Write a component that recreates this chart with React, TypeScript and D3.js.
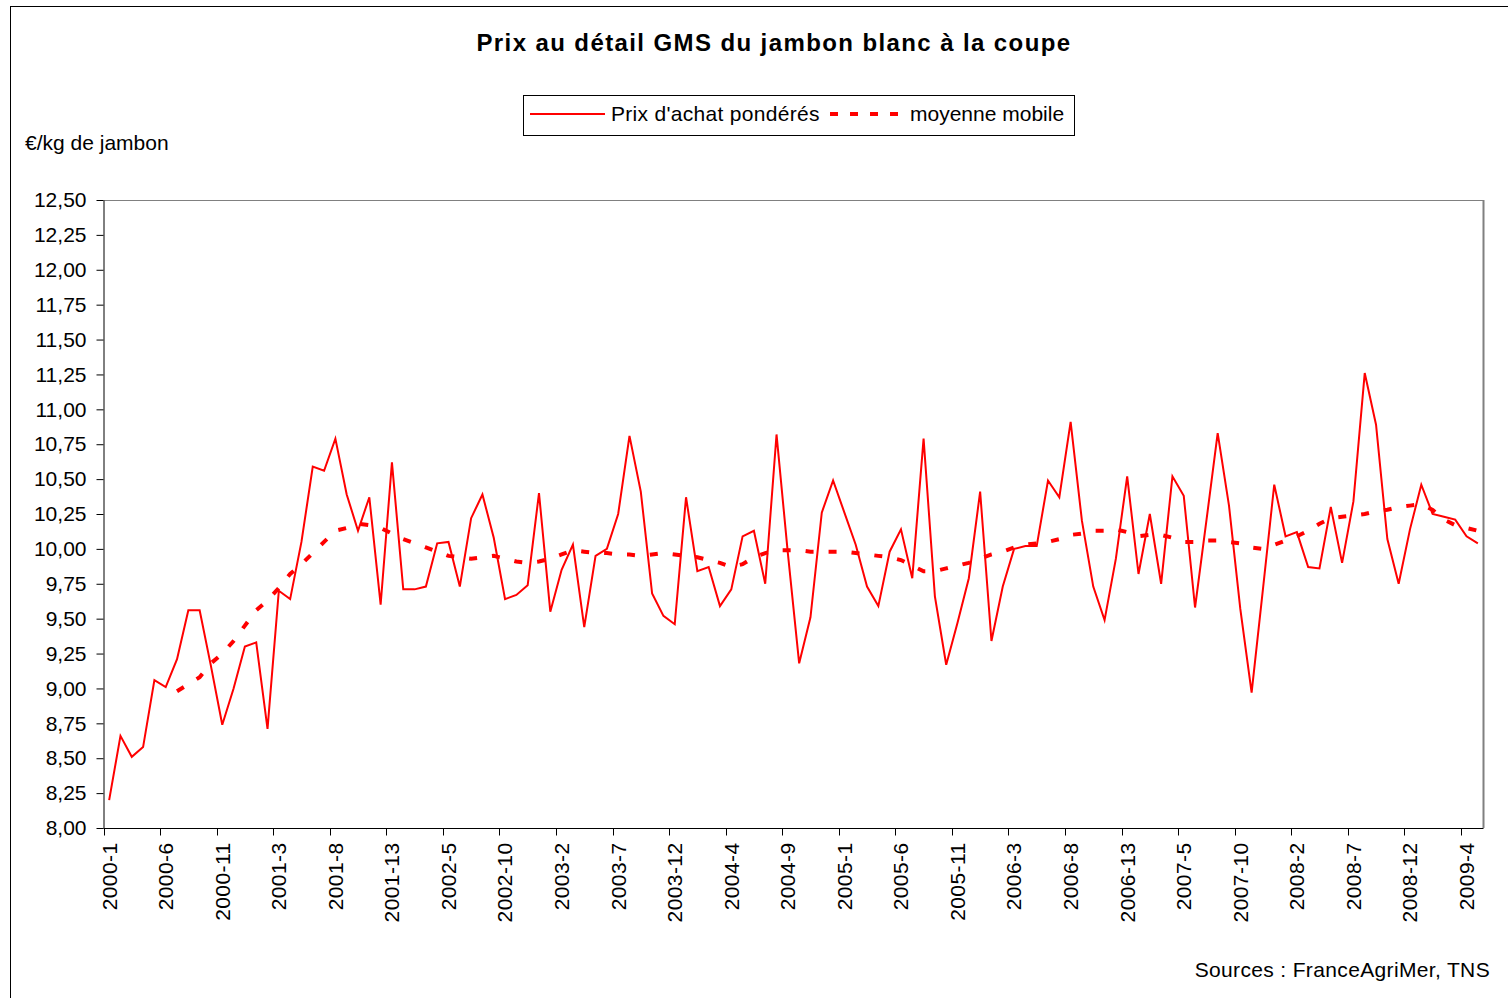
import React, { useEffect, useRef } from 'react';
import * as d3 from 'd3';

// 4-week periods, 13 per year, from 2000-1 up to 2009-5
const periods: string[] = [];
for (let yr = 2000; yr <= 2009; yr++) {
  for (let p = 1; p <= 13; p++) periods.push(`${yr}-${p}`);
}
const categories = periods.slice(0, 122);

const tickLabels = [
  '2000-1', '2000-6', '2000-11', '2001-3', '2001-8', '2001-13', '2002-5', '2002-10',
  '2003-2', '2003-7', '2003-12', '2004-4', '2004-9', '2005-1', '2005-6', '2005-11',
  '2006-3', '2006-8', '2006-13', '2007-5', '2007-10', '2008-2', '2008-7', '2008-12', '2009-4',
];

const yTicks = [8, 8.25, 8.5, 8.75, 9, 9.25, 9.5, 9.75, 10, 10.25, 10.5, 10.75, 11, 11.25, 11.5, 11.75, 12, 12.25, 12.5];

// Prix d'achat pondérés (€/kg)
const prixAchat = [
  8.20, 8.66, 8.51, 8.58, 9.06, 9.01, 9.21, 9.56, 9.56, 9.16, 8.74, 9.00, 9.30, 9.33, 8.71, 9.70,
  9.64, 10.05, 10.59, 10.56, 10.79, 10.39, 10.13, 10.37, 9.60, 10.62, 9.71, 9.71, 9.73, 10.04, 10.05, 9.73,
  10.22, 10.39, 10.08, 9.64, 9.67, 9.74, 10.40, 9.55, 9.85, 10.03, 9.44, 9.95, 10.00, 10.25, 10.81, 10.41,
  9.68, 9.52, 9.46, 10.37, 9.84, 9.87, 9.59, 9.71, 10.09, 10.13, 9.75, 10.82, 9.97, 9.18, 9.51, 10.26,
  10.49, 10.26, 10.03, 9.73, 9.59, 9.98, 10.14, 9.79, 10.79, 9.66, 9.17, 9.47, 9.79, 10.41, 9.34, 9.73,
  10.00, 10.02, 10.02, 10.49, 10.37, 10.91, 10.20, 9.73, 9.49, 9.93, 10.52, 9.82, 10.25, 9.75, 10.52, 10.38,
  9.58, 10.20, 10.83, 10.31, 9.57, 8.97, 9.71, 10.46, 10.09, 10.12, 9.87, 9.86, 10.30, 9.90, 10.34, 11.26,
  10.89, 10.07, 9.75, 10.14, 10.46, 10.25, 10.23, 10.21, 10.09, 10.04,
];

// moyenne mobile, starts at 2000-7
const moyenneStart = 6;
const moyenneMobile = [
  8.98, 9.03, 9.08, 9.18, 9.25, 9.34, 9.45, 9.56, 9.63, 9.72, 9.82, 9.89, 9.97, 10.05, 10.13, 10.15,
  10.18, 10.17, 10.15, 10.11, 10.07, 10.04, 10.01, 9.98, 9.95, 9.94, 9.93, 9.94, 9.95, 9.93, 9.91, 9.90,
  9.91, 9.93, 9.96, 9.99, 9.98, 9.97, 9.97, 9.96, 9.96, 9.95, 9.96, 9.97, 9.96, 9.95, 9.94, 9.92,
  9.90, 9.87, 9.89, 9.94, 9.97, 9.99, 9.99, 9.99, 9.98, 9.98, 9.98, 9.98, 9.97, 9.96, 9.95, 9.94,
  9.92, 9.88, 9.84, 9.84, 9.86, 9.88, 9.90, 9.93, 9.96, 9.98, 10.01, 10.03, 10.04, 10.05, 10.07, 10.10,
  10.11, 10.13, 10.13, 10.14, 10.12, 10.09, 10.10, 10.10, 10.08, 10.05, 10.05, 10.06, 10.06, 10.05, 10.04, 10.01,
  10.00, 10.03, 10.06, 10.09, 10.13, 10.18, 10.22, 10.23, 10.24, 10.25, 10.27, 10.28, 10.30, 10.31, 10.32, 10.28,
  10.21, 10.17, 10.15, 10.13,
];

const FONT = '"Liberation Sans", Arial, Helvetica, sans-serif';
const RED = '#ff0000';

const App = () => {
  const ref = useRef<SVGSVGElement>(null);

  useEffect(() => {
    if (!ref.current) return;
    const svg = d3.select(ref.current);
    svg.selectAll('*').remove();

    const left = 103.5, right = 1483.5, top = 200, bottom = 828;

    const x = d3.scaleBand<string>().domain(categories).range([left, right]).padding(0);
    const xc = (c: string) => (x(c) as number) + x.bandwidth() / 2;
    const y = d3.scaleLinear().domain([8, 12.5]).range([bottom, top]);

    // outer chart frame
    svg.append('rect')
      .attr('x', 10.5).attr('y', 6.5)
      .attr('width', 1520).attr('height', 1010)
      .attr('fill', 'white').attr('stroke', '#000').attr('stroke-width', 1);

    // title
    svg.append('text')
      .attr('x', 774).attr('y', 51)
      .attr('text-anchor', 'middle')
      .style('font-family', FONT).style('font-size', '24px').style('font-weight', 'bold')
      .style('letter-spacing', '1.4px')
      .text('Prix au détail GMS du jambon blanc à la coupe');

    // unit label
    svg.append('text')
      .attr('x', 25).attr('y', 150)
      .style('font-family', FONT).style('font-size', '21px')
      .text('€/kg de jambon');

    // sources
    svg.append('text')
      .attr('x', 1490).attr('y', 977)
      .attr('text-anchor', 'end')
      .style('font-family', FONT).style('font-size', '21px')
      .style('letter-spacing', '0.35px')
      .text('Sources : FranceAgriMer, TNS');

    // plot frame (top / right in grey)
    svg.append('line')
      .attr('x1', left).attr('x2', right).attr('y1', top + 0.5).attr('y2', top + 0.5)
      .attr('stroke', '#808080');
    svg.append('line')
      .attr('x1', right).attr('x2', right).attr('y1', top).attr('y2', bottom)
      .attr('stroke', '#808080').attr('stroke-width', 2);

    // y axis
    const yAxis = svg.append('g')
      .attr('transform', `translate(${left},0)`)
      .call(d3.axisLeft(y)
        .tickValues(yTicks)
        .tickSize(7)
        .tickSizeOuter(0)
        .tickPadding(10)
        .tickFormat(d => d3.format('.2f')(d as number).replace('.', ',')));
    yAxis.selectAll('text')
      .style('font-family', FONT).style('font-size', '21px').attr('fill', '#000');
    yAxis.selectAll('line, path').attr('stroke', '#000');

    // x axis
    const xAxis = svg.append('g').attr('transform', `translate(0,${bottom + 0.5})`);
    xAxis.append('line').attr('x1', left).attr('x2', right).attr('stroke', '#000');
    xAxis.selectAll('.tick')
      .data(tickLabels)
      .enter().append('line')
      .attr('class', 'tick')
      .attr('x1', d => Math.round(x(d) as number) + 0.5)
      .attr('x2', d => Math.round(x(d) as number) + 0.5)
      .attr('y1', 0).attr('y2', 7)
      .attr('stroke', '#000');
    xAxis.selectAll('.lbl')
      .data(tickLabels)
      .enter().append('text')
      .attr('class', 'lbl')
      .attr('transform', d => `translate(${xc(d)},14) rotate(-90)`)
      .attr('text-anchor', 'end')
      .attr('dy', '0.35em')
      .style('font-family', FONT).style('font-size', '21px')
      .style('letter-spacing', '0.4px')
      .text(d => d);

    // series
    const line = d3.line<[string, number]>()
      .x(d => xc(d[0]))
      .y(d => y(d[1]));

    const moyennePts: [string, number][] = moyenneMobile.map((v, i) => [categories[i + moyenneStart], v]);
    svg.append('path')
      .datum(moyennePts)
      .attr('d', line)
      .attr('fill', 'none')
      .attr('stroke', RED)
      .attr('stroke-width', 4)
      .attr('stroke-dasharray', '8,15');

    const prixPts: [string, number][] = prixAchat.map((v, i) => [categories[i], v]);
    svg.append('path')
      .datum(prixPts)
      .attr('d', line)
      .attr('fill', 'none')
      .attr('stroke', RED)
      .attr('stroke-width', 2)
      .attr('stroke-linejoin', 'miter');

    // legend
    const lg = svg.append('g');
    lg.append('rect')
      .attr('x', 523.5).attr('y', 95.5).attr('width', 551).attr('height', 40)
      .attr('fill', 'white').attr('stroke', '#000');
    lg.append('line')
      .attr('x1', 530).attr('x2', 605).attr('y1', 114).attr('y2', 114)
      .attr('stroke', RED).attr('stroke-width', 2);
    lg.append('text')
      .attr('x', 611).attr('y', 121)
      .style('font-family', FONT).style('font-size', '21px')
      .style('letter-spacing', '0.3px')
      .text("Prix d'achat pondérés");
    lg.append('line')
      .attr('x1', 830).attr('x2', 907).attr('y1', 114).attr('y2', 114)
      .attr('stroke', RED).attr('stroke-width', 4).attr('stroke-dasharray', '8,12');
    lg.append('text')
      .attr('x', 910).attr('y', 121)
      .style('font-family', FONT).style('font-size', '21px')
      .text('moyenne mobile');
  }, []);

  return (
    <div style={{ position: 'absolute', left: 0, top: 0 }}>
      <svg ref={ref} width={1508} height={998} style={{ display: 'block', background: 'white' }}></svg>
    </div>
  );
};

export default App;
